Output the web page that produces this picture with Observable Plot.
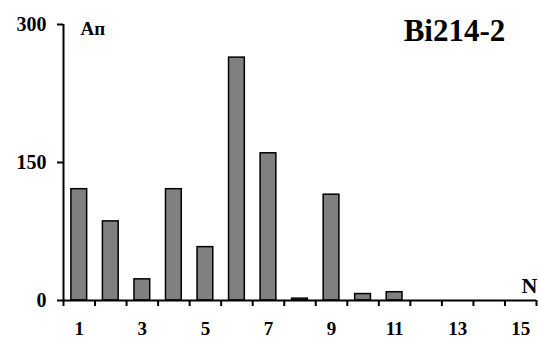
<!DOCTYPE html>
<html>
<head>
<meta charset="utf-8">
<script src="https://cdn.jsdelivr.net/npm/d3@7"></script>
<script src="https://cdn.jsdelivr.net/npm/@observablehq/plot@0.6"></script>
<style>
  html, body { margin: 0; padding: 0; background: #fff; }
  #chart svg, #chart svg text { font-family: "Liberation Serif", "Times New Roman", Times, serif !important; font-weight: bold; }
</style>
</head>
<body>
<div id="chart"></div>
<script>
const categories = [1, 2, 3, 4, 5, 6, 7, 8, 9, 10, 11, 12, 13, 14, 15];
const values = [121, 86, 23, 121, 58, 264, 160, 2, 115, 7, 9, 0, 0, 0, 0];
const xTickLabels = [1, 3, 5, 7, 9, 11, 13, 15];
const yTickLabels = [0, 150, 300];
const title = "Bi214-2";
const yLabel = "Ап";
const xLabel = "N";

const data = categories.map((n, i) => ({n, v: values[i]}));
const boundaries = [...categories.map(n => n - 0.5), categories[categories.length - 1] + 0.5];
const serif = "Liberation Serif";

const chart = Plot.plot({
  width: 539,
  height: 338,
  marginLeft: 63,
  marginRight: 3,
  marginTop: 24,
  marginBottom: 38,
  style: {background: "#fff", color: "#000"},
  x: {domain: [0.5, 15.5], axis: null},
  y: {domain: [0, 300], axis: null},
  marks: [
    Plot.rectY(data, {x1: d => d.n - 0.25, x2: d => d.n + 0.25, y: "v", fill: "#808080", stroke: "#000", strokeWidth: 1.5}),
    Plot.ruleY([0], {stroke: "#000", strokeWidth: 2}),
    Plot.ruleX([0.5], {y1: 0, y2: 300, stroke: "#000", strokeWidth: 2}),
    Plot.axisY({ticks: yTickLabels, label: null, tickSize: 6, tickPadding: 11, fontSize: 20, fontFamily: serif, strokeWidth: 2, tickFormat: d => String(d)}),
    Plot.axisX({ticks: boundaries, label: null, tickSize: 6, strokeWidth: 2, tickFormat: () => ""}),
    Plot.axisX({ticks: xTickLabels, label: null, tickSize: 0, tickPadding: 21, fontSize: 19, fontFamily: serif, tickFormat: d => String(d)}),
    Plot.text([title], {text: d => d, frameAnchor: "top-right", textAnchor: "middle", lineAnchor: "middle", dx: -82, dy: 7, fontSize: 31, fontFamily: serif, fill: "#000"}),
    Plot.text([yLabel], {text: d => d, frameAnchor: "top-left", textAnchor: "start", lineAnchor: "middle", dx: 17, dy: 4, fontSize: 19, fontFamily: serif, fill: "#000"}),
    Plot.text([xLabel], {text: d => d, frameAnchor: "bottom-right", textAnchor: "end", lineAnchor: "middle", dx: 1, dy: -15, fontSize: 22, fontFamily: serif, fill: "#000"})
  ]
});
d3.select(chart).selectAll("text")
  .attr("font-family", serif)
  .attr("font-weight", "bold");
document.getElementById("chart").appendChild(chart);
</script>
</body>
</html>
